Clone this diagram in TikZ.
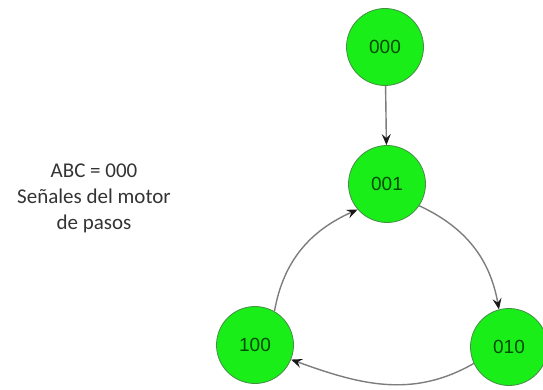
\documentclass[tikz,border=0pt]{standalone}
\usepackage{fontspec}
\setmainfont{Liberation Sans}
\newfontfamily\calib{Carlito}
\usetikzlibrary{arrows.meta}
\definecolor{stategreen}{RGB}{25,238,25}
\definecolor{stateborder}{RGB}{70,140,70}
\definecolor{statetext}{RGB}{0,75,0}
\definecolor{edgegray}{RGB}{125,125,125}
\begin{document}
\begin{tikzpicture}[x=1pt,y=1pt,
  state/.style={circle,draw=stateborder,line width=0.8pt,fill=stategreen,
    minimum size=77pt,inner sep=0pt,text=statetext,font=\fontsize{19}{21}\selectfont},
  trans/.style={draw=edgegray,line width=1.4pt,
    -{Stealth[length=11pt,width=9pt,inset=4pt,color=black!90]}}]
\useasboundingbox (0,0) rectangle (543,389);
\node[state] (s000) at (385,342) {000};
\node[state] (s001) at (387,205) {001};
\node[state] (s100) at (255,44) {100};
\node[state] (s010) at (509,42) {010};
\node[align=center,font=\calib\fontsize{21}{26}\selectfont,text=black!80] (lbl) at (94,191)
  {ABC = 000\\Señales del motor\\de pasos};
\draw[trans] (s000) -- (s001);
\draw[trans] (s001.-34) to[out=-25,in=100] (s010.105);
\draw[trans] (s100.60) to[out=80,in=204] (s001.221);
\draw[trans] (s010.205) to[out=210,in=-20] (s100.-22);
\end{tikzpicture}
\end{document}
